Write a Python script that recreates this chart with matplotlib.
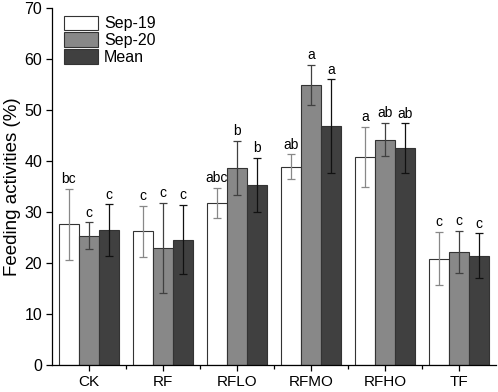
import matplotlib.pyplot as plt
import numpy as np

plt.rcParams['font.family'] = ['Liberation Sans', 'DejaVu Sans']

# treatments and series
groups = ['CK', 'RF', 'RFLO', 'RFMO', 'RFHO', 'TF']
series = ['Sep-19', 'Sep-20', 'Mean']

sep19 = [27.7, 26.3, 31.8, 38.8, 40.8, 20.9]
sep19_hi = [34.6, 31.2, 34.8, 41.3, 46.7, 26.1]
sep19_lo = [20.7, 21.3, 28.9, 36.4, 34.9, 15.7]
sep19_letters = ['bc', 'c', 'abc', 'ab', 'a', 'c']

sep20 = [25.3, 23.0, 38.6, 54.9, 44.2, 22.2]
sep20_hi = [28.0, 31.8, 44.0, 58.8, 47.5, 26.3]
sep20_lo = [22.7, 14.1, 33.3, 50.9, 41.0, 18.0]
sep20_letters = ['c', 'c', 'b', 'a', 'ab', 'c']

mean = [26.5, 24.6, 35.3, 46.8, 42.5, 21.5]
mean_hi = [31.5, 31.4, 40.6, 56.0, 47.4, 25.9]
mean_lo = [21.5, 17.8, 30.0, 37.7, 37.7, 17.2]
mean_letters = ['c', 'c', 'b', 'a', 'ab', 'c']

fig = plt.figure(figsize=(4.98, 3.92), dpi=100)
ax = fig.add_axes([0.104, 0.068, 0.892, 0.912])

x = np.arange(len(groups))
w = 0.27
fills = ['white', '#888888', '#404040']
errc = ['#888888', '#404040', '#111111']
data = [(sep19, sep19_hi, sep19_lo, sep19_letters),
        (sep20, sep20_hi, sep20_lo, sep20_letters),
        (mean, mean_hi, mean_lo, mean_letters)]

for i, (vals, hi, lo, letters) in enumerate(data):
    pos = x + (i - 1) * w
    ax.bar(pos, vals, w, color=fills[i], edgecolor='#333333', linewidth=0.8,
           label=series[i], zorder=2)
    vals = np.array(vals)
    yerr = [vals - np.array(lo), np.array(hi) - vals]
    ax.errorbar(pos, vals, yerr=yerr, fmt='none', ecolor=errc[i],
                elinewidth=0.9, capsize=3, capthick=0.9, zorder=3)
    for p, h, t in zip(pos, hi, letters):
        ax.text(p, h + 0.5, t, ha='center', va='bottom', fontsize=10)

ax.set_xlim(-0.5, 5.5)
ax.set_ylim(0, 70)
ax.set_yticks(range(0, 71, 10))
ax.set_xticks(x)
ax.set_xticklabels(groups)
ax.set_xticks(x[:-1] + 0.5, minor=True)
ax.tick_params(axis='both', which='major', labelsize=11.5, direction='out',
               length=4, width=0.9, pad=3)
ax.tick_params(axis='x', which='minor', direction='out', length=3, width=0.9)
ax.tick_params(axis='x', which='major', labelsize=11, pad=3)
for s in ['top', 'right']:
    ax.spines[s].set_visible(False)
for s in ['left', 'bottom']:
    ax.spines[s].set_linewidth(0.9)
ax.set_ylabel('Feeding activities (%)', fontsize=13.5)
ax.yaxis.set_label_coords(-0.07, 0.5)

ax.legend(loc='upper left', bbox_to_anchor=(0.006, 1.005), frameon=False,
          fontsize=11.5, handlelength=2.1, handleheight=1.05,
          labelspacing=0.05, handletextpad=0.4, borderaxespad=0.2)

fig.savefig('out.png', dpi=100)
